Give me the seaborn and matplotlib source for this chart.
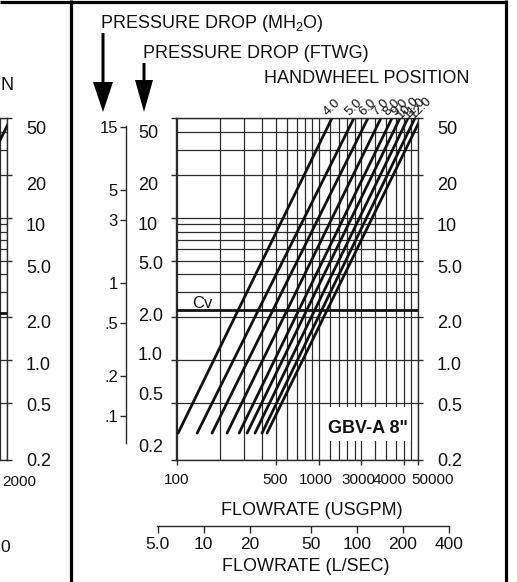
import numpy as np
import pandas as pd
import matplotlib
matplotlib.use("Agg")
import matplotlib.pyplot as plt
import seaborn as sns
from matplotlib.ticker import FixedLocator, NullFormatter
from matplotlib.patches import Rectangle, FancyArrow
import matplotlib.transforms as mtransforms

# ---------------- data ----------------
positions = ["4.0", "5.0", "6.0", "7.0", "8.0", "9.0", "10.0", "11.0", "12.0"]
flow_low = [102, 139, 177, 226, 275, 313, 356, 399, 433]          # USGPM at low dp
flow_high = [1245, 1780, 2236, 2762, 3303, 3761, 4284, 4801, 5294]  # USGPM at high dp
dp_low = 0.309
dp_high = 50
cv_level = 2.25

frag_flow = [437, 5374]
frag_dp = [0.309, 50]
frag_cv = 2.15

grid_flow = [100, 200, 300, 400, 500, 600, 700, 800, 900, 1000,
             1200, 1400, 1600, 1800, 2000, 2500, 3000, 3500, 4000, 4500, 5000]
grid_dp = [0.2, 0.5, 1, 2, 3, 4, 5, 6, 7, 8, 9, 10, 20, 30, 40, 50]

usgpm_ticks = [100, 500, 1000, 2000, 4000, 5000]
usgpm_labels = ["100", "500", "1000", "3000", "4000", "50000"]
ftwg_ticks = [50, 20, 10, 5, 2, 1, 0.5, 0.2]
ftwg_labels = ["50", "20", "10", "5.0", "2.0", "1.0", "0.5", "0.2"]
mh2o_ticks = [15, 5, 3, 1, 0.5, 0.2, 0.1]
mh2o_labels = ["15", "5", "3", "1", ".5", ".2", ".1"]
lps_ticks = [5, 10, 20, 50, 100, 200, 400]
lps_labels = ["5.0", "10", "20", "50", "100", "200", "400"]

# ---------------- style ----------------
sns.set_style("white")
plt.rcParams["font.family"] = ["Liberation Sans", "DejaVu Sans"]
plt.rcParams["mathtext.default"] = "regular"
INK = "#111111"
GRID = "#2b2b2b"

W, H = 517, 582
fig = plt.figure(figsize=(W / 100, H / 100), dpi=100)
fig.patch.set_facecolor("white")


def px_axes(x0, y0, x1, y1, **kw):
    return fig.add_axes([x0 / W, 1 - y1 / H, (x1 - x0) / W, (y1 - y0) / H], **kw)


def setup_grid(ax):
    ax.set_xscale("log")
    ax.set_yscale("log")
    ax.set_xlim(98.5, 5040)
    ax.set_ylim(0.2, 50)
    ax.xaxis.set_minor_locator(FixedLocator(grid_flow))
    ax.yaxis.set_minor_locator(FixedLocator(grid_dp))
    ax.xaxis.set_minor_formatter(NullFormatter())
    ax.yaxis.set_minor_formatter(NullFormatter())
    ax.grid(which="both", color=GRID, lw=0.9)
    ax.tick_params(which="minor", length=0)
    for s in ax.spines.values():
        s.set_color(GRID)
        s.set_linewidth(1.0)
    ax.patch.set_alpha(0)


def label_axes(x0, y0, x1, y1, ticks, labels, side, pad, fs, lim):
    a = px_axes(x0, y0, x1, y1)
    a.set_yscale("log")
    a.set_ylim(*lim)
    a.set_yticks(ticks)
    a.set_yticklabels(labels)
    a.yaxis.set_minor_locator(FixedLocator([]))
    a.set_xticks([])
    if side == "right":
        a.yaxis.tick_right()
    a.tick_params(axis="y", length=0, pad=pad, labelsize=fs, colors=INK)
    for s in a.spines.values():
        s.set_visible(False)
    a.patch.set_alpha(0)
    return a


# ---------------- main chart ----------------
ax = px_axes(176, 118, 418, 460)
setup_grid(ax)

rows = []
for p, ql, qh in zip(positions, flow_low, flow_high):
    rows.append({"pos": p, "flow": ql, "dp": dp_low})
    rows.append({"pos": p, "flow": qh, "dp": dp_high})
df = pd.DataFrame(rows)
sns.lineplot(data=df, x="flow", y="dp", units="pos", estimator=None, sort=False,
             color=INK, lw=2.0, ax=ax, legend=False)
ax.axhline(cv_level, color=INK, lw=2.0)

for p, qh in zip(positions, flow_high):
    ax.annotate(p, xy=(qh, dp_high), xytext=(0, 7.5), textcoords="offset points",
                rotation=45, ha="center", va="center", fontsize=9.5, color=INK,
                annotation_clip=False)

ax.set_xticks(usgpm_ticks)
ax.set_xticklabels(usgpm_labels)
ax.set_yticks(ftwg_ticks)
ax.set_yticklabels([])
ax.tick_params(axis="x", which="major", direction="out", length=3.6, width=1.0,
               color=GRID, pad=6, labelsize=11, labelcolor=INK, bottom=True)
ax.tick_params(axis="y", which="major", direction="out", length=3.6, width=1.0,
               color=GRID, left=True, right=True)
ax.set_xlabel("")
ax.set_ylabel("")

# right-hand labels of the main chart
label_axes(176, 128, 418, 460, ftwg_ticks, ftwg_labels, "right", 13.7, 13, (0.2, 50))
# FTWG labels column
label_axes(136, 132, 138, 445, ftwg_ticks, ftwg_labels, "right", 0, 13, (0.2, 50))

# MH2O scale
am = px_axes(126, 126, 127, 443)
am.set_yscale("log")
am.set_ylim(0.0627, 15.15)
am.set_yticks(mh2o_ticks)
am.set_yticklabels(mh2o_labels)
am.yaxis.set_minor_locator(FixedLocator([]))
am.set_xticks([])
for k, s in am.spines.items():
    s.set_visible(k == "left")
am.spines["left"].set_color(GRID)
am.spines["left"].set_linewidth(1.0)
am.tick_params(axis="y", direction="out", length=4.3, width=1.0, color=GRID,
               pad=1.5, labelsize=12, labelcolor=INK, left=True)
am.patch.set_alpha(0)

# L/SEC scale
al = px_axes(157, 525, 449, 526)
al.set_xscale("log")
al.set_xlim(4.95, 400)
al.set_xticks(lps_ticks)
al.set_xticklabels(lps_labels)
al.xaxis.set_minor_locator(FixedLocator([]))
al.set_yticks([])
for k, s in al.spines.items():
    s.set_visible(k == "bottom")
al.spines["bottom"].set_color(GRID)
al.spines["bottom"].set_linewidth(1.0)
al.tick_params(axis="x", direction="out", length=5, width=1.0, color=GRID,
               pad=3, labelsize=12.5, labelcolor=INK, bottom=True)
al.patch.set_alpha(0)

# ---------------- fragment of neighbouring chart ----------------
af = px_axes(7 - 242, 118, 7, 460)
setup_grid(af)
af.plot(frag_flow, frag_dp, color=INK, lw=2.0)
af.axhline(frag_cv, color=INK, lw=2.0)
af.set_xticks([])
af.set_yticks(ftwg_ticks)
af.set_yticklabels([])
af.yaxis.tick_right()
af.tick_params(axis="y", which="major", direction="out", length=3.6, width=1.0,
               color=GRID, right=True)
label_axes(7 - 242, 128, 7, 460, ftwg_ticks, ftwg_labels, "right", 13.7, 13, (0.2, 50))

# ---------------- overlay: titles, arrows, frame ----------------
ao = fig.add_axes([0, 0, 1, 1], zorder=10)
ao.set_xlim(0, W)
ao.set_ylim(H, 0)
ao.axis("off")
ao.patch.set_alpha(0)

ao.text(100, 28.5, "PRESSURE DROP (MH$_2$O)", ha="left", va="baseline", fontsize=13, color=INK)
ao.text(143, 58, "PRESSURE DROP (FTWG)", ha="left", va="baseline", fontsize=13, color=INK)
ao.text(470, 83, "HANDWHEEL POSITION", ha="right", va="baseline", fontsize=13, color=INK)
ao.text(312, 515, "FLOWRATE (USGPM)", ha="center", va="baseline", fontsize=13, color=INK)
ao.text(306, 571, "FLOWRATE (L/SEC)", ha="center", va="baseline", fontsize=13, color=INK)
ao.text(192, 308, "Cv", ha="left", va="baseline", fontsize=12, color=INK)

ao.add_patch(Rectangle((327, 407), 84, 34, facecolor="white", edgecolor="none"))
ao.text(368, 433, "GBV-A 8\"", ha="center", va="baseline", fontsize=13,
        fontweight="bold", color=INK)

# fragment texts (ends of the neighbouring chart's labels)
ao.text(0.5, 90, "N", ha="left", va="baseline", fontsize=13, color=INK)
ao.text(36, 486, "2000", ha="right", va="baseline", fontsize=11, color=INK)
ao.text(0.5, 552, "0", ha="left", va="baseline", fontsize=12.5, color=INK)

ao.add_patch(FancyArrow(103, 33, 0, 79, width=3, head_width=20, head_length=30,
                        length_includes_head=True, color="black", lw=0))
ao.add_patch(FancyArrow(144, 63, 0, 49, width=3, head_width=18, head_length=32,
                        length_includes_head=True, color="black", lw=0))

ao.plot([0, 507], [1.5, 1.5], color="black", lw=2.3, solid_capstyle="butt")
ao.plot([71, 71], [0, H], color="black", lw=2.3, solid_capstyle="butt")
ao.plot([505.5, 505.5], [0, H], color="black", lw=2.3, solid_capstyle="butt")

# nudge crowded USGPM labels as in the original
offsets = [0, -1, -3, -3, -14, 15]
for lab, dx in zip(ax.get_xticklabels(), offsets):
    lab.set_transform(lab.get_transform() + mtransforms.ScaledTranslation(dx / 100, 0, fig.dpi_scale_trans))

fig.savefig("out.png", dpi=100, facecolor="white")
